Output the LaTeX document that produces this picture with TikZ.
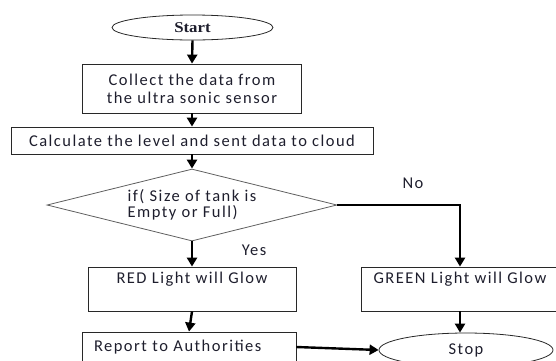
\documentclass[tikz,border=0pt]{standalone}
\usepackage{fontspec}
\setmainfont{Carlito}[LetterSpace=9]
\newfontfamily\startfont{Liberation Serif}[FakeStretch=1.12]
\usetikzlibrary{shapes.geometric,arrows.meta}
\definecolor{txt}{RGB}{30,30,45}
\definecolor{edge}{RGB}{40,40,40}
\definecolor{dedge}{RGB}{95,95,95}
\begin{document}
\begin{tikzpicture}[x=1pt,y=-1pt,
  box/.style={draw=edge, line width=0.8pt, rectangle, inner sep=0pt,
    font=\fontsize{16.5}{18}\selectfont, text=txt},
  term/.style={draw=edge, line width=0.8pt, ellipse, inner sep=0pt,
    font=\fontsize{16.5}{18}\selectfont, text=txt},
  dec/.style={draw=dedge, line width=0.8pt, diamond, aspect=4, inner sep=0pt,
    font=\fontsize{16.5}{16}\selectfont, text=txt},
  lbl/.style={inner sep=0pt, font=\fontsize{16.5}{18}\selectfont, text=txt},
  arr/.style={line width=2.4pt, -{Triangle[width=10pt,length=9pt]}}]
\clip (0,0) rectangle (556,360);
\node[term, minimum width=161pt, minimum height=25pt] (start) at (192.5,27.5) {\startfont\fontsize{15}{18}\selectfont\bfseries Start};
\node[box, minimum width=219pt, minimum height=49pt, align=center] (collect) at (192,88.5) {Collect the data from\\the ultra sonic sensor};
\node[box, minimum width=362pt, minimum height=27pt] (calc) at (192,140.5) {Calculate the level and sent data to cloud};
\node[dec, minimum width=290pt, minimum height=72pt, align=left] (dec) at (192,205) {if( Size of tank is\\Empty or Full)};
\node[box, minimum width=208pt, minimum height=44pt, align=center] (red) at (192,289) {RED Light will Glow\\\strut};
\node[box, minimum width=198pt, minimum height=44pt, align=center] (green) at (460,289) {GREEN Light will Glow\\\strut};
\node[box, minimum width=214pt, minimum height=30pt, text width=190pt, align=left] (report) at (189,347) {Report to Authorities};
\node[term, minimum width=174pt, minimum height=34pt] (stop) at (466,350) {Stop};
\node[lbl] (no) at (413,183) {No};
\node[lbl] (yes) at (254,250) {Yes};
\draw[arr] (start.south) -- (collect.north);
\draw[arr] (collect.south) -- (calc.north);
\draw[arr] (calc.south) -- (dec.north);
\draw[arr] (dec.south) -- (red.north);
\draw[arr] (dec.east) -| (green.north);
\draw[arr] (red.south) -- (report.north);
\draw[arr] (green.south) -- (green.south |- stop.north);
\draw[arr] (report.east) -- (stop.west);
\end{tikzpicture}
\end{document}
